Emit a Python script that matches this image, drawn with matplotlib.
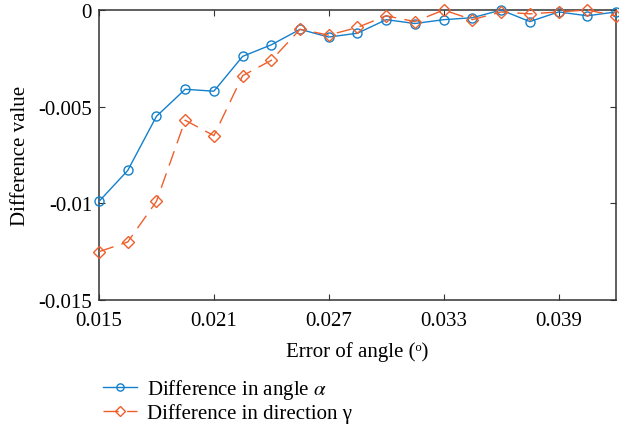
import matplotlib

matplotlib.use("Agg")
import matplotlib.pyplot as plt

# angle error samples (deg) and the two difference curves
error_of_angle = [0.015 + 0.0015 * k for k in range(19)]
diff_alpha = [-0.0099, -0.0083, -0.0055, -0.0041, -0.0042, -0.0024, -0.0018,
              -0.0010, -0.0014, -0.0012, -0.0005, -0.0007, -0.0005, -0.0004,
              0.0000, -0.0006, -0.0001, -0.0003, -0.0001]
diff_gamma = [-0.0125, -0.0120, -0.0099, -0.0057, -0.0065, -0.0034, -0.0026,
              -0.0010, -0.0013, -0.0009, -0.0003, -0.0006, 0.0000, -0.0005,
              -0.0001, -0.0002, -0.0001, 0.0000, -0.0003]
xtick_vals = [0.015, 0.021, 0.027, 0.033, 0.039]
xtick_labels = ["0.015", "0.021", "0.027", "0.033", "0.039"]
ytick_vals = [-0.015, -0.01, -0.005, 0]
ytick_labels = ["-0.015", "-0.01", "-0.005", "0"]

plt.rcParams["font.family"] = ["Liberation Serif", "DejaVu Serif"]
plt.rcParams["mathtext.fontset"] = "stix"

BLUE = "#1380CC"
ORANGE = "#EE5F2C"
FS = 15

fig = plt.figure(figsize=(6.19, 4.31), dpi=100)
ax = fig.add_axes([99 / 619, 1 - 301 / 431, 517 / 619, 290 / 431])

ax.plot(error_of_angle, diff_alpha, color=BLUE, lw=1.0, marker="o",
        ms=6.5, mfc="none", mec=BLUE, mew=1.0,
        label=r"Difference in angle $\alpha$", clip_on=False, zorder=3)
ax.plot(error_of_angle, diff_gamma, color=ORANGE, lw=1.0, ls=(0, (11, 6)),
        marker="D", ms=6, mfc="none", mec=ORANGE, mew=1.0,
        label="Difference in direction γ", clip_on=False, zorder=3)

ax.set_xlim(0.015, 0.042)
ax.set_ylim(-0.015, 0)
ax.set_xticks(xtick_vals, xtick_labels)
ax.set_yticks(ytick_vals, ytick_labels)
ax.tick_params(direction="in", top=True, right=True, length=4,
               labelsize=FS, color="#333333")
ax.tick_params(axis="x", pad=8)
ax.tick_params(axis="y", pad=5)
for s in ax.spines.values():
    s.set_color("#333333")
    s.set_linewidth(1.1)

ax.set_xlabel("Error of angle (ᵒ)", fontsize=FS, labelpad=8)
ax.set_ylabel("Difference value", fontsize=FS, labelpad=6)

fig.legend(loc="upper left", bbox_to_anchor=(95 / 619, 1 - 370 / 431),
           frameon=False, fontsize=FS, handlelength=1.6, handletextpad=0.5,
           labelspacing=0.1, borderaxespad=0, markerscale=0.8)

fig.savefig("out.png", dpi=100)
